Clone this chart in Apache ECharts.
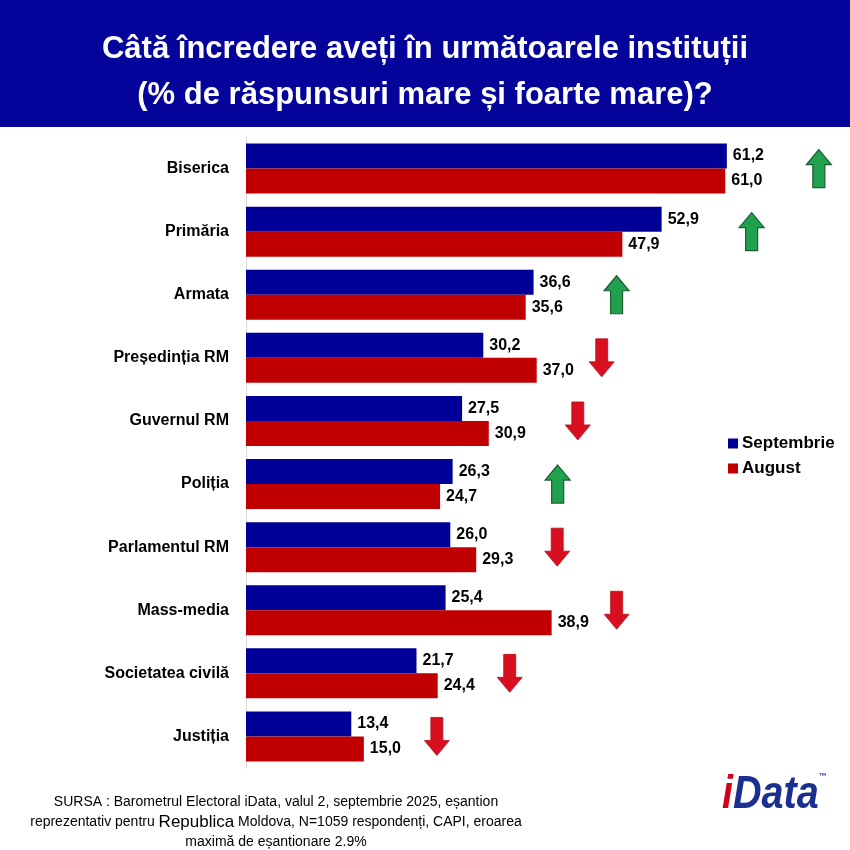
<!DOCTYPE html>
<html><head><meta charset="utf-8">
<script src="https://cdn.jsdelivr.net/npm/echarts@6/dist/echarts.min.js"></script>
<style>html,body{margin:0;padding:0;background:#fff}#c{width:850px;height:850px}</style>
</head><body><div id="c"></div>
<script>
const categories = ['Biserica','Primăria','Armata','Președinția RM','Guvernul RM','Poliția','Parlamentul RM','Mass-media','Societatea civilă','Justiția'];
const septembrie = [61.2, 52.9, 36.6, 30.2, 27.5, 26.3, 26.0, 25.4, 21.7, 13.4];
const august = [61.0, 47.9, 35.6, 37.0, 30.9, 24.7, 29.3, 38.9, 24.4, 15.0];
const seriesNames = ['Septembrie', 'August'];

// layout: horizontal pixel gap between the longer bar and its trend arrow
const arrowGapPx = [92, 90, 83, 65, 89, 105, 81, 65, 72, 73];

const BLUE = '#000099', RED = '#C00000';
const fmt = v => v.toFixed(1).replace('.', ',');

const arrowData = categories.map((c, i) => [Math.max(septembrie[i], august[i]), i, septembrie[i] >= august[i] ? 1 : -1]);

const chart = echarts.init(document.getElementById('c'), null, {renderer: 'canvas'});
const labelStyle = {show: true, position: 'right', distance: 6, formatter: p => fmt(p.value), color: '#000', fontSize: 16, fontWeight: 'bold', fontFamily: 'Liberation Sans, Arial, sans-serif'};

chart.setOption({
  animation: false,
  backgroundColor: '#fff',
  grid: {left: 246, top: 137, height: 631, width: 550, containLabel: false},
  xAxis: {type: 'value', min: 0, max: 70, show: false},
  yAxis: {
    type: 'category', data: categories, inverse: true,
    axisLine: {show: true, lineStyle: {color: '#d9d9d9', width: 1}},
    axisTick: {show: false},
    axisLabel: {color: '#000', fontSize: 16, fontWeight: 'bold', fontFamily: 'Liberation Sans, Arial, sans-serif', margin: 17}
  },
  legend: {
    data: seriesNames, orient: 'vertical', left: 723, top: 430,
    itemWidth: 10, itemHeight: 10, itemGap: 8, icon: 'rect',
    textStyle: {color: '#000', fontSize: 17, fontWeight: 'bold', fontFamily: 'Liberation Sans, Arial, sans-serif', padding: [0,0,0,-1]}
  },
  series: [
    {name: seriesNames[0], type: 'bar', data: septembrie, barWidth: 25, barGap: '0%', itemStyle: {color: BLUE}, label: labelStyle},
    {name: seriesNames[1], type: 'bar', data: august, barWidth: 25, barGap: '0%', itemStyle: {color: RED}, label: labelStyle},
    {
      type: 'custom', data: arrowData, encode: {x: 0, y: 1}, z: 5,
      renderItem: (params, api) => {
        const idx = api.value(1);
        const dir = api.value(2);
        const p = api.coord([api.value(0), idx]);
        const cx = p[0] + arrowGapPx[idx], cy = p[1];
        const hw = 12.5, sw = 6, h = 19, head = 15;
        let pts;
        if (dir > 0) {
          pts = [[cx, cy - h], [cx + hw, cy - h + head], [cx + sw, cy - h + head], [cx + sw, cy + h], [cx - sw, cy + h], [cx - sw, cy - h + head], [cx - hw, cy - h + head]];
        } else {
          pts = [[cx, cy + h], [cx + hw, cy + h - head], [cx + sw, cy + h - head], [cx + sw, cy - h], [cx - sw, cy - h], [cx - sw, cy + h - head], [cx - hw, cy + h - head]];
        }
        return {
          type: 'polygon', shape: {points: pts},
          style: dir > 0 ? {fill: '#1fa150', stroke: '#1d5c2e', lineWidth: 1.2} : {fill: '#d70f1f', stroke: '#b5101c', lineWidth: 0.8}
        };
      }
    }
  ],
  graphic: [
    {type: 'rect', left: 0, top: 0, shape: {width: 850, height: 127}, style: {fill: '#04049b'}, z: 0},
    {type: 'text', x: 425, y: 26, style: {text: 'Câtă încredere aveți în următoarele instituții\n(% de răspunsuri mare și foarte mare)?', fill: '#fff', font: 'bold 31px "Liberation Sans", Arial, sans-serif', align: 'center', verticalAlign: 'top', lineHeight: 46}},
    {type: 'text', x: 276, y: 792, style: {
      text: 'SURSA : Barometrul Electoral iData, valul 2, septembrie 2025, eșantion\nreprezentativ pentru {big|Republica} Moldova, N=1059 respondenți, CAPI, eroarea\nmaximă de eșantionare 2.9%',
      fill: '#000', font: '14px "Liberation Sans", Arial, sans-serif', align: 'center', lineHeight: 20,
      rich: {big: {fontSize: 17, fontFamily: '"Liberation Sans", Arial, sans-serif', fill: '#000'}}
    }},
    {type: 'text', x: 722, y: 772, scaleX: 0.86, style: {text: '{i|i}{d|Data}{tm|™}', rich: {
      i: {fill: '#d0021b', font: 'italic bold 46px "Liberation Sans", sans-serif'},
      d: {fill: '#1b2f8f', font: 'italic bold 46px "Liberation Sans", sans-serif'},
      tm: {fill: '#1b2f8f', font: 'bold 9px "Liberation Sans", sans-serif', verticalAlign: 'top', padding: [0,0,28,0]}
    }}}
  ]
});
</script></body></html>
